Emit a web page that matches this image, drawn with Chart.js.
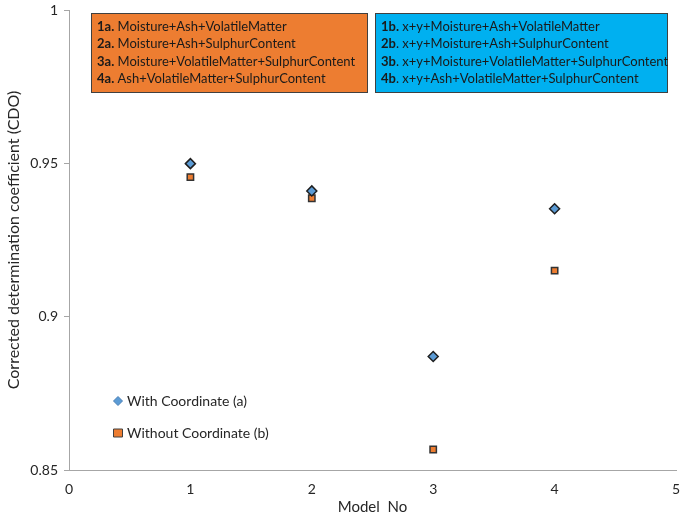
<!DOCTYPE html>
<html><head><meta charset="utf-8">
<script src="https://cdn.jsdelivr.net/npm/chart.js@4/dist/chart.umd.min.js"></script>
<style>html,body{margin:0;padding:0;background:#fff}#wrap{width:685px;height:520px}</style>
</head><body><div id="wrap"><canvas id="c" width="685" height="520"></canvas></div>
<script>
const modelNo = [1, 2, 3, 4];
const withCoord = [0.9499, 0.9410, 0.8870, 0.9352];
const withoutCoord = [0.9455, 0.9386, 0.8567, 0.9150];
const yTicks = [0.85, 0.9, 0.95, 1];
const xTicks = [0, 1, 2, 3, 4, 5];
const seriesNames = ['With Coordinate (a)', 'Without Coordinate (b)'];
const boxA = [['1a.', ' Moisture+Ash+VolatileMatter'], ['2a.', ' Moisture+Ash+SulphurContent'], ['3a.', ' Moisture+VolatileMatter+SulphurContent'], ['4a.', ' Ash+VolatileMatter+SulphurContent']];
const boxB = [['1b.', ' x+y+Moisture+Ash+VolatileMatter'], ['2b', '. x+y+Moisture+Ash+SulphurContent'], ['3b', '. x+y+Moisture+VolatileMatter+SulphurContent'], ['4b', '. x+y+Ash+VolatileMatter+SulphurContent']];

const FONT = 'Lato, "Open Sans", sans-serif';
const axisColor = '#a6a6a6';

const overlay = {
  id: 'overlay',
  afterDraw(chart) {
    const ctx = chart.ctx;
    const drawBox = (x, y, w, h, fill, lines) => {
      ctx.save();
      ctx.fillStyle = fill;
      ctx.fillRect(x, y, w, h);
      ctx.strokeStyle = '#404040';
      ctx.lineWidth = 1;
      ctx.strokeRect(x + 0.5, y + 0.5, w, h);
      ctx.fillStyle = '#1a1a1a';
      ctx.textBaseline = 'middle';
      lines.forEach((ln, i) => {
        const ty = y + 14 + i * 17.3;
        ctx.font = 'bold 13px ' + FONT;
        ctx.fillText(ln[0], x + 6, ty);
        const bw = ctx.measureText(ln[0]).width;
        ctx.font = '13px ' + FONT;
        ctx.fillText(ln[1], x + 6 + bw, ty);
      });
      ctx.restore();
    };
    drawBox(91, 13, 276, 79, '#ED7D31', boxA);
    drawBox(375, 13, 292, 79, '#00B0F0', boxB);
    const ds = chart.data.datasets;
    const ly = [401, 433];
    ctx.save();
    ds.forEach((d, i) => {
      ctx.fillStyle = d.backgroundColor; ctx.strokeStyle = i === 0 ? '#4a7fb5' : '#404040';
      ctx.lineWidth = 1;
      ctx.beginPath();
      if (i === 0) {
        ctx.moveTo(118, ly[i] - 4.5); ctx.lineTo(122.5, ly[i]); ctx.lineTo(118, ly[i] + 4.5); ctx.lineTo(113.5, ly[i]); ctx.closePath();
      } else {
        ctx.rect(113.5, ly[i] - 4, 9, 8);
      }
      ctx.fill(); ctx.stroke();
      ctx.fillStyle = '#262626';
      ctx.font = '14px ' + FONT;
      ctx.textBaseline = 'middle';
      ctx.fillText(d.label, 127, ly[i]);
    });
    ctx.restore();
  }
};

new Chart(document.getElementById('c'), {
  type: 'scatter',
  data: {
    datasets: [
      { label: seriesNames[0], data: modelNo.map((x, i) => ({x, y: withCoord[i]})),
        pointStyle: 'rectRot', pointRadius: 5, backgroundColor: '#5B9BD5', borderColor: '#1f1f1f', borderWidth: 1.5, pointHoverRadius: 5 },
      { label: seriesNames[1], data: modelNo.map((x, i) => ({x, y: withoutCoord[i]})),
        pointStyle: 'rect', pointRadius: 4.5, backgroundColor: '#ED7D31', borderColor: '#333333', borderWidth: 1.5, pointHoverRadius: 4.5 }
    ]
  },
  options: {
    responsive: false, animation: false,
    layout: { padding: { top: 10, right: 9, left: 0, bottom: 0 } },
    plugins: { legend: { display: false }, tooltip: { enabled: false } },
    scales: {
      x: {
        type: 'linear', min: 0, max: 5,
        afterBuildTicks: s => { s.ticks = xTicks.map(v => ({value: v})); },
        grid: { display: false, drawOnChartArea: false, drawTicks: true, tickLength: 5, color: axisColor },
        border: { color: axisColor, width: 1 },
        ticks: { color: '#262626', font: { family: FONT, size: 14 }, padding: 6 },
        title: { display: true, text: 'Model  No', color: '#262626', font: { family: FONT, size: 15 }, padding: { top: 2 } },
        afterFit: s => { s.height = 50; s.paddingRight = 0; s.paddingLeft = 0; }
      },
      y: {
        type: 'linear', min: 0.85, max: 1,
        afterBuildTicks: s => { s.ticks = yTicks.map(v => ({value: v})); },
        grid: { display: true, drawOnChartArea: false, drawTicks: true, tickLength: 5, color: axisColor },
        border: { color: axisColor, width: 1 },
        ticks: { color: '#262626', font: { family: FONT, size: 14 }, padding: 6, callback: v => String(v) },
        title: { display: true, text: 'Corrected determination coefficient (CDO)', color: '#262626', font: { family: FONT, size: 16 }, padding: { bottom: 2 } },
        afterFit: s => { s.width = 69; s.paddingTop = 0; s.paddingBottom = 0; }
      }
    }
  },
  plugins: [overlay]
});
</script>
</body></html>
